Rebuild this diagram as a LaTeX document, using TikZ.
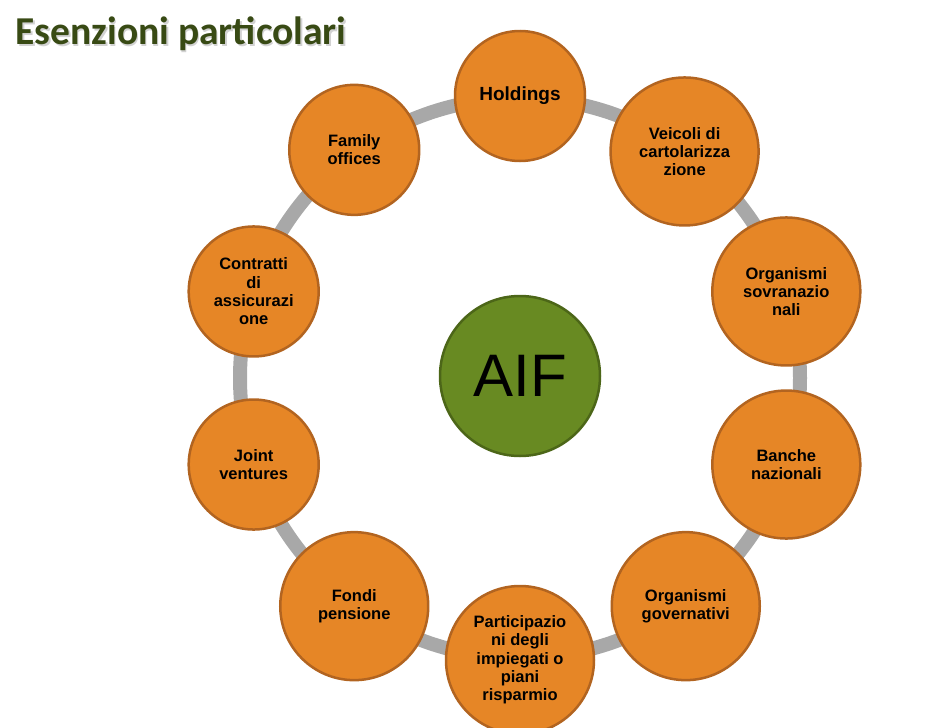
\documentclass[tikz,border=0pt]{standalone}
\usepackage{fontspec}
\setmainfont{Liberation Sans}
\newfontfamily\titlefont{Carlito}
\usetikzlibrary{positioning}
\definecolor{aiforange}{RGB}{230,134,38}
\definecolor{aiforangedark}{RGB}{178,100,32}
\definecolor{aifgreen}{RGB}{104,138,34}
\definecolor{aifgreendark}{RGB}{76,102,24}
\definecolor{aifring}{RGB}{168,168,168}
\definecolor{aiftitle}{RGB}{56,74,20}

\begin{document}
\begin{tikzpicture}[x=1pt, y=1pt,
    big/.style={circle, draw=aiforangedark, fill=aiforange, line width=2.5pt,
                minimum size=148pt, inner sep=0pt, align=center,
                font=\bfseries\fontsize{16.5}{18.3}\selectfont},
    small/.style={big, minimum size=130pt},
    hub/.style={circle, draw=aifgreendark, fill=aifgreen, line width=2.5pt,
                minimum size=160pt, inner sep=0pt,
                font=\fontsize{60}{60}\selectfont},
    ring/.style={draw=aifring, line width=14pt},
    title/.style={anchor=base west, text=aiftitle,
                  font=\titlefont\bfseries\fontsize{39.5}{42}\selectfont},
  ]
  \useasboundingbox (0,0) rectangle (927,-728);

  % Titolo
  \node[title, text=gray!35] (titleshadow) at (13.5,-46.5) {Esenzioni particolari};
  \node[title] (titletext) at (12,-45) {Esenzioni particolari};

  % Anello
  \coordinate (ctr) at (520,-378);
  \draw[ring] (ctr) circle (280);

  % Centro
  \node[hub] (aif) at ([shift={(0,2)}]ctr) {AIF};

  % Esenzioni
  \node[small, font=\bfseries\fontsize{19}{21}\selectfont] (hold)
    at ([shift={(90:282)}]ctr) {Holdings};
  \node[big] (veic) at ([shift={(54:280)}]ctr) {Veicoli di\\cartolarizza\\zione};
  \node[big] (sovr) at ([shift={(18:280)}]ctr) {Organismi\\sovranazio\\nali};
  \node[big] (banc) at ([shift={(-18:280)}]ctr) {Banche\\nazionali};
  \node[big] (gov) at ([shift={(-54:282)}]ctr) {Organismi\\governativi};
  \node[big] (part) at ([shift={(-90:282)}]ctr)
    {Participazio\\ni degli\\impiegati o\\piani\\risparmio};
  \node[big] (fond) at ([shift={(-126:282)}]ctr) {Fondi\\pensione};
  \node[small] (joint) at ([shift={(-162:280)}]ctr) {Joint\\ventures};
  \node[small] (contr) at ([shift={(162:280)}]ctr) {Contratti\\di\\assicurazi\\one};
  \node[small] (fam) at ([shift={(126:282)}]ctr) {Family\\offices};
\end{tikzpicture}
\end{document}
